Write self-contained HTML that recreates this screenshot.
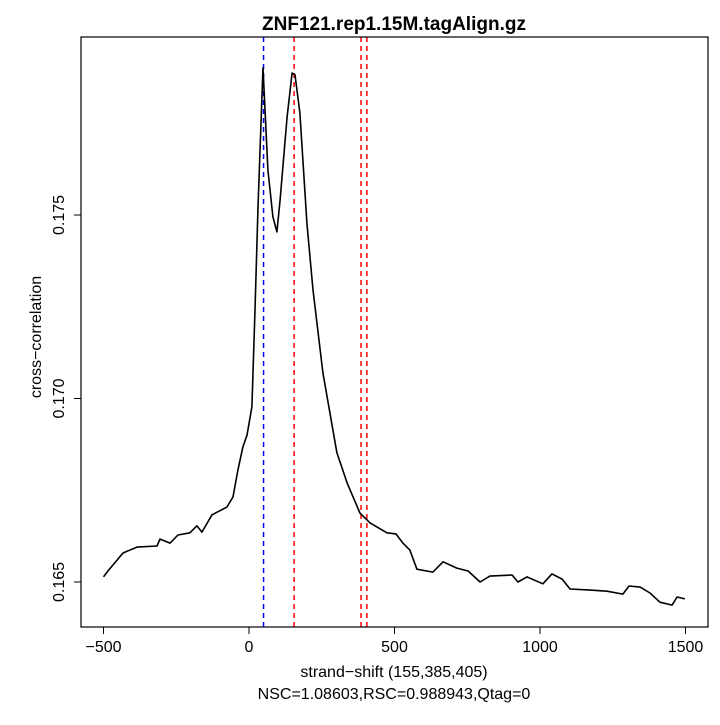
<!DOCTYPE html>
<html><head><meta charset="utf-8"><style>
body{margin:0;background:#fff}
svg text{font-family:"Liberation Sans",sans-serif;fill:#000}
</style></head><body>
<svg width="720" height="720" xmlns="http://www.w3.org/2000/svg">
<rect width="720" height="720" fill="#fff"/>
<text x="394" y="30" font-size="19" font-weight="bold" text-anchor="middle">ZNF121.rep1.15M.tagAlign.gz</text>
<g id="marks"></g>
<rect x="81" y="37" width="627" height="590" fill="none" stroke="#000" stroke-width="1.2"/>
<g id="axes"></g>
<text x="394" y="677" font-size="16" text-anchor="middle">strand−shift (155,385,405)</text>
<text x="394" y="699" font-size="16" text-anchor="middle">NSC=1.08603,RSC=0.988943,Qtag=0</text>
<text transform="translate(41,337) rotate(-90)" font-size="16" text-anchor="middle">cross−correlation</text>
</svg>
<script>
const shifts=[-500,-485,-433,-385,-316,-306,-271,-244,-203,-179,-162,-127,-76,-55,-38,-21,-7,10,21,31,48,65,82,96,107,131,148,158,175,199,220,254,302,337,381,416,474,505,529,553,577,632,667,714,753,794,828,904,924,955,1010,1041,1076,1103,1172,1230,1285,1306,1344,1378,1412,1454,1471,1498];
const corr=[0.16514,0.16530,0.16579,0.16595,0.16598,0.16617,0.16606,0.16628,0.16634,0.16653,0.16636,0.16683,0.16704,0.16732,0.16805,0.16868,0.16900,0.16977,0.17250,0.17522,0.17901,0.17623,0.17495,0.17454,0.17541,0.17767,0.17887,0.17882,0.17778,0.17478,0.17296,0.17070,0.16852,0.16770,0.16688,0.16661,0.16634,0.16631,0.16606,0.16587,0.16535,0.16527,0.16555,0.16538,0.16530,0.16500,0.16516,0.16519,0.16500,0.16514,0.16495,0.16522,0.16508,0.16481,0.16478,0.16475,0.16467,0.16489,0.16486,0.16470,0.16445,0.16437,0.16459,0.16454];
const xTicks=[-500,0,500,1000,1500];
const yTicks=[0.165,0.170,0.175];
const yTickLabels=["0.165","0.170","0.175"];
const blueLines=[50];
const redLines=[155,385,405];
const NS="http://www.w3.org/2000/svg";
function xs(v){return 249+(v)*0.291;}
function ys(v){return 582-(v-0.165)/0.005*183.5;}
function mk(t,a,p){const e=document.createElementNS(NS,t);for(const k in a)e.setAttribute(k,a[k]);p.appendChild(e);return e;}
const marks=document.getElementById('marks'),axes=document.getElementById('axes');
blueLines.forEach(v=>{const l=mk('line',{x1:xs(v),x2:xs(v),y1:37,y2:627,stroke:'#0000ff','stroke-width':1.5,'stroke-dasharray':'5,4'},marks);

});
redLines.forEach(v=>{const l=mk('line',{x1:xs(v),x2:xs(v),y1:37,y2:627,stroke:'#ff0000','stroke-width':1.5,'stroke-dasharray':'5,4'},marks);

});
const p=mk('polyline',{points:shifts.map((s,i)=>xs(s).toFixed(1)+','+ys(corr[i]).toFixed(1)).join(' '),fill:'none',stroke:'#000','stroke-width':1.6,'stroke-linejoin':'round'},marks);


xTicks.forEach(v=>{const x=xs(v);mk('line',{x1:x,x2:x,y1:627,y2:634,stroke:'#000'},axes);
const t=mk('text',{x:x,y:652,'font-size':16,'text-anchor':'middle'},axes);t.textContent=v<0?'−'+(-v):v;

});
yTicks.forEach((v,i)=>{const y=ys(v);mk('line',{x1:74,x2:81,y1:y,y2:y,stroke:'#000'},axes);
const t=mk('text',{transform:`translate(64,${y}) rotate(-90)`,'font-size':16,'text-anchor':'middle'},axes);t.textContent=yTickLabels[i];

});
</script>
</body></html>
